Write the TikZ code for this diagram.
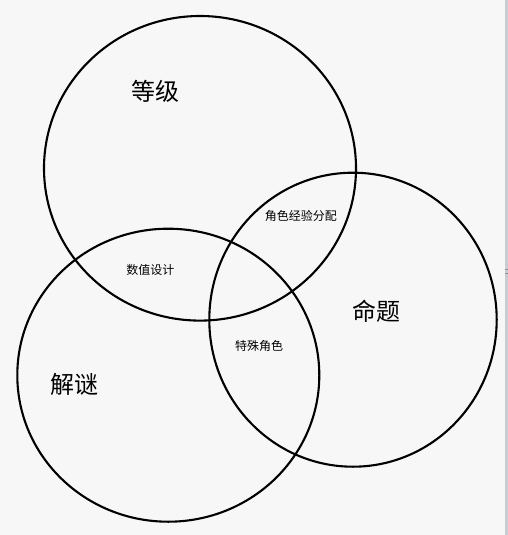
\documentclass[tikz,border=0pt]{standalone}
\usepackage{fontspec}
\newfontfamily\cjk{Noto Sans CJK SC}
\definecolor{bg}{RGB}{247,247,248}
\definecolor{edge}{RGB}{200,205,212}
\begin{document}
\begin{tikzpicture}[x=1pt,y=-1pt,
  ring/.style={draw=black,line width=2.1pt},
  big/.style={font=\cjk\fontsize{24}{26}\selectfont,inner sep=0pt},
  small/.style={font=\cjk\fontsize{12}{14}\selectfont,inner sep=0pt}]
\useasboundingbox (0,0) rectangle (508,535);
\fill[bg] (0,0) rectangle (508,535);
\fill[edge] (505,0) rectangle (508,535);
\draw[edge!70!black,line width=0.6pt] (505,269) -- (508,269) (505,273) -- (508,273);
\draw[ring] (200,168.3) ellipse [x radius=156, y radius=152.3];
\draw[ring] (353,319.7) ellipse [x radius=143.7, y radius=147];
\draw[ring] (168.3,375.2) ellipse [x radius=151, y radius=146.5];
\node[big] (dj) at (155,91.7) {等级};
\node[big] (mt) at (376,311.7) {命题};
\node[big] (jm) at (74.5,384.5) {解谜};
\node[small] (jsjy) at (300.8,216.3) {角色经验分配};
\node[small] (szsj) at (150.3,269.5) {数值设计};
\node[small] (tsjs) at (259,345.8) {特殊角色};
\end{tikzpicture}
\end{document}
